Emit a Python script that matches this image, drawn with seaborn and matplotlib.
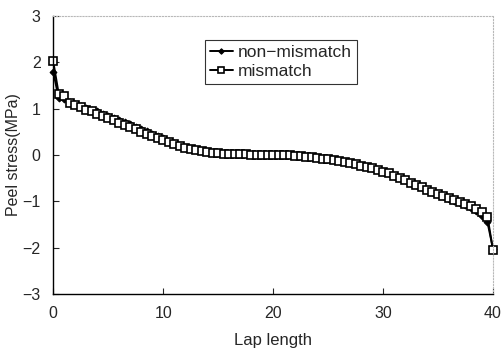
import matplotlib
matplotlib.use("Agg")
import matplotlib.pyplot as plt
import pandas as pd
import seaborn as sns

# -----------------------------
# Data
# -----------------------------
lap_length = [
    0.0, 0.5, 1.0, 1.5, 2.0, 2.5, 3.0, 3.5, 4.0, 4.5,
    5.0, 5.5, 6.0, 6.5, 7.0, 7.5, 8.0, 8.5, 9.0, 9.5,
    10.0, 10.5, 11.0, 11.5, 12.0, 12.5, 13.0, 13.5, 14.0, 14.5,
    15.0, 15.5, 16.0, 16.5, 17.0, 17.5, 18.0, 18.5, 19.0, 19.5,
    20.0, 20.5, 21.0, 21.5, 22.0, 22.5, 23.0, 23.5, 24.0, 24.5,
    25.0, 25.5, 26.0, 26.5, 27.0, 27.5, 28.0, 28.5, 29.0, 29.5,
    30.0, 30.5, 31.0, 31.5, 32.0, 32.5, 33.0, 33.5, 34.0, 34.5,
    35.0, 35.5, 36.0, 36.5, 37.0, 37.5, 38.0, 38.5, 39.0, 39.5,
    40.0,
]

mismatch = [
    2.02, 1.32, 1.28, 1.12, 1.08, 1.03, 0.98, 0.94, 0.89, 0.84,
    0.79, 0.75, 0.70, 0.65, 0.60, 0.55, 0.50, 0.45, 0.40, 0.36,
    0.32, 0.27, 0.23, 0.19, 0.16, 0.12, 0.10, 0.08, 0.06, 0.05,
    0.04, 0.03, 0.02, 0.02, 0.01, 0.01, 0.00, 0.00, 0.00, 0.00,
    0.00, -0.01, -0.01, -0.01, -0.02, -0.03, -0.04, -0.05, -0.06, -0.08,
    -0.09, -0.11, -0.13, -0.15, -0.17, -0.20, -0.23, -0.26, -0.29, -0.32,
    -0.36, -0.40, -0.45, -0.50, -0.55, -0.60, -0.65, -0.70, -0.75, -0.80,
    -0.84, -0.88, -0.93, -0.97, -1.01, -1.05, -1.10, -1.17, -1.24, -1.33,
    -2.05,
]

non_mismatch = [
    1.80, 1.22, 1.20, 1.15, 1.10, 1.06, 1.02, 0.98, 0.94, 0.89,
    0.85, 0.80, 0.76, 0.71, 0.66, 0.61, 0.56, 0.51, 0.46, 0.41,
    0.36, 0.30, 0.25, 0.20, 0.16, 0.12, 0.10, 0.08, 0.06, 0.05,
    0.04, 0.03, 0.02, 0.02, 0.01, 0.01, 0.00, 0.00, 0.00, 0.00,
    0.00, -0.01, -0.01, -0.01, -0.02, -0.03, -0.04, -0.05, -0.06, -0.08,
    -0.09, -0.11, -0.13, -0.15, -0.17, -0.20, -0.23, -0.26, -0.29, -0.32,
    -0.36, -0.40, -0.45, -0.50, -0.55, -0.60, -0.65, -0.70, -0.75, -0.80,
    -0.84, -0.89, -0.94, -0.99, -1.03, -1.08, -1.14, -1.22, -1.32, -1.45,
    -2.02,
]

x_ticks = [0, 10, 20, 30, 40]
y_ticks = [-3, -2, -1, 0, 1, 2, 3]

# -----------------------------
# Plot
# -----------------------------
sns.set_style("ticks")
plt.rcParams["font.family"] = ["Liberation Sans", "DejaVu Sans"]

df = pd.DataFrame({
    "lap": lap_length,
    "non": non_mismatch,
    "mis": mismatch,
})

fig = plt.figure(figsize=(5.02, 3.55), dpi=100)
ax = fig.add_axes([0.106, 0.172, 0.876, 0.783])

sns.lineplot(data=df, x="lap", y="non", ax=ax, color="black", linewidth=1.4,
             marker="D", markersize=3.5, markerfacecolor="black",
             markeredgecolor="black", label="non\u2212mismatch", clip_on=False)
sns.lineplot(data=df, x="lap", y="mis", ax=ax, color="black", linewidth=1.4,
             marker="s", markersize=5.5, markerfacecolor="white",
             markeredgecolor="black", markeredgewidth=1.2, label="mismatch",
             clip_on=False)

ax.set_xlim(0, 40)
ax.set_ylim(-3, 3)
ax.set_xticks(x_ticks)
ax.set_yticks(y_ticks)
ax.tick_params(direction="in", length=4, width=0.8, labelsize=11.5, pad=9)
ax.set_xlabel("Lap length", fontsize=12, labelpad=8)
ax.set_ylabel("Peel stress(MPa)", fontsize=11.5, labelpad=1)

for side in ["left", "bottom"]:
    ax.spines[side].set_linewidth(1.0)
    ax.spines[side].set_color("black")
for side in ["top", "right"]:
    ax.spines[side].set_linestyle(":")
    ax.spines[side].set_color("#b8b8b8")
    ax.spines[side].set_linewidth(0.8)

leg = ax.legend(loc="upper left", bbox_to_anchor=(0.345, 0.915), fontsize=12.5,
                frameon=True, fancybox=False, handlelength=1.3,
                handletextpad=0.3, borderpad=0.3, labelspacing=0.2,
                borderaxespad=0, markerscale=0.8)
leg.get_frame().set_edgecolor("black")
leg.get_frame().set_linewidth(0.8)

fig.savefig("out.png", dpi=100)
